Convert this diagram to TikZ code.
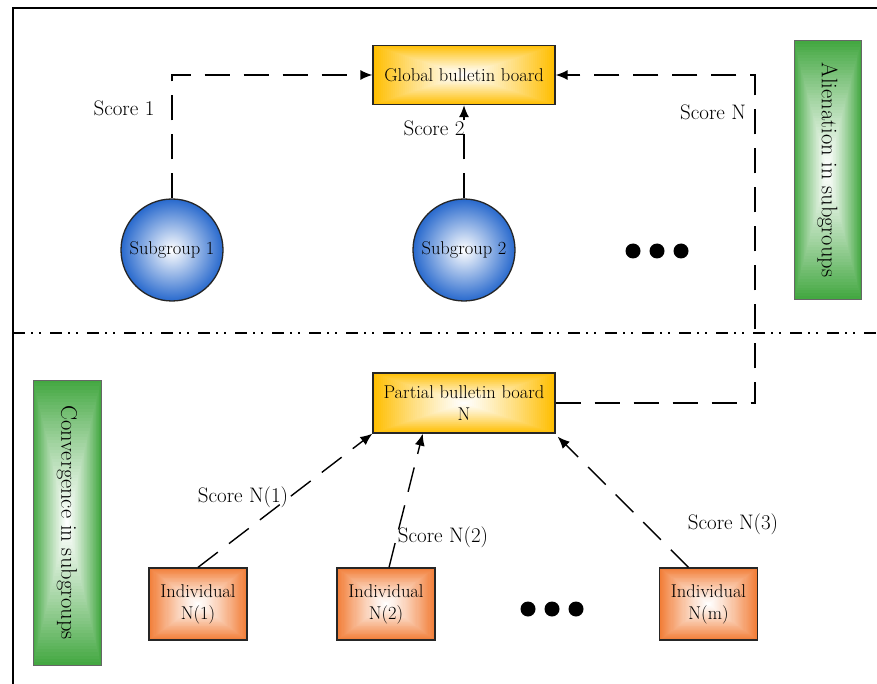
\documentclass[tikz,border=0pt]{standalone}
\usepackage{fontspec}
\usetikzlibrary{arrows.meta,calc}
\definecolor{cyel}{RGB}{255,190,0}
\definecolor{cblue}{RGB}{40,105,205}
\definecolor{corg}{RGB}{242,125,55}
\definecolor{cgrn}{RGB}{68,168,66}
\tikzset{
  rgrad/.style={path picture={
    \foreach \i in {0,...,44}{
      \pgfmathsetmacro\t{1-\i/45}
      \pgfmathsetmacro\m{100*(\t)^1.2}
      \fill[#1!\m!white]
        ($(path picture bounding box.center)!\t!(path picture bounding box.south west)$)
        rectangle
        ($(path picture bounding box.center)!\t!(path picture bounding box.north east)$);
    }}},
  boxtext/.style={font=\fontsize{18.5}{22}\selectfont, align=center},
  ybox/.style={draw=black!85, line width=1.3pt, rgrad=cyel, minimum width=182pt, minimum height=59pt, inner sep=1pt, boxtext},
  obox/.style={draw=black!85, line width=1.3pt, rgrad=corg, minimum width=98pt, minimum height=72pt, inner sep=1pt, boxtext},
  gbox/.style={draw=black!60, line width=1pt, rgrad=cgrn, inner sep=1pt, rotate=-90, font=\fontsize{22.5}{26}\selectfont},
  circ/.style={circle, draw=black!85, line width=1.3pt, inner color=white, outer color=cblue, minimum size=102pt, inner sep=0pt, boxtext},
  lbl/.style={font=\fontsize{21}{25}\selectfont, inner sep=1pt},
  conn/.style={line width=1.4pt, dash pattern=on 25pt off 14pt, -{Latex[length=12pt,width=10pt]}},
  dotn/.style={circle, fill=black, minimum size=15pt, inner sep=0pt},
  sepline/.style={line width=1.2pt, dash pattern=on 12pt off 6pt on 2pt off 6pt on 2pt off 9pt},
  frame/.style={line width=1.4pt}
}
\begin{document}
\begin{tikzpicture}[x=1pt,y=-1pt]
\useasboundingbox (0,0) rectangle (877,684);
\fill[white] (0,0) rectangle (877,684);
% frame
\coordinate (fb) at (13,684);
\coordinate (fc) at (13,8);
\coordinate (fr) at (877,8);
\draw[frame] (fb) -- (fc) -- (fr);
\coordinate (sl) at (13,333);
\coordinate (sr) at (877,333);
\draw[sepline] (sl) -- (sr);

% nodes
\node[ybox] (gbb) at (464,75) {Global bulletin board};
\node[ybox, minimum height=60pt] (pbb) at (464,403) {Partial bulletin board\\N};
\node[circ] (s1) at (172,250) {Subgroup 1};
\node[circ] (s2) at (464,250) {Subgroup 2};
\node[dotn] (d1) at (633,251) {};
\node[dotn] (d2) at (657,251) {};
\node[dotn] (d3) at (681,251) {};
\node[gbox, minimum width=258pt, minimum height=67pt] (al) at (827.5,170) {Alienation in subgroups};
\node[gbox, minimum width=285pt, minimum height=68pt] (cv) at (67,522.5) {Convergence in subgroups};
\node[obox] (i1) at (198,604) {Individual\\N(1)};
\node[obox] (i2) at (386,604) {Individual\\N(2)};
\node[obox] (im) at (708.5,604) {Individual\\N(m)};
\node[dotn] (e1) at (528,609) {};
\node[dotn] (e2) at (552,609) {};
\node[dotn] (e3) at (576,609) {};

% labels
\node[lbl] (l1) at (124,108) {Score 1};
\node[lbl] (l2) at (434,128) {Score 2};
\node[lbl] (lN) at (713,112) {Score N};
\node[lbl] (ln1) at (243,497) {Score N(1)};
\node[lbl] (ln2) at (443,537) {Score N(2)};
\node[lbl] (ln3) at (733,524) {Score N(3)};

% connectors
\draw[conn] (s1.north) |- (gbb.west);
\draw[conn] (s2.north) -- (gbb.south);
\coordinate (cN) at (755,75);
\draw[conn] (pbb.east) -| (cN) -- (gbb.east);
\draw[conn] (i1.north) -- (pbb.south west);
\coordinate (p2) at ($(pbb.south west)!0.275!(pbb.south east)$);
\draw[conn] ($(i2.north)+(3,0)$) -- (p2);
\coordinate (p3) at ($(pbb.south east)+(2,3)$);
\draw[conn] ($(im.north)+(-20,0)$) -- (p3);
\end{tikzpicture}
\end{document}
